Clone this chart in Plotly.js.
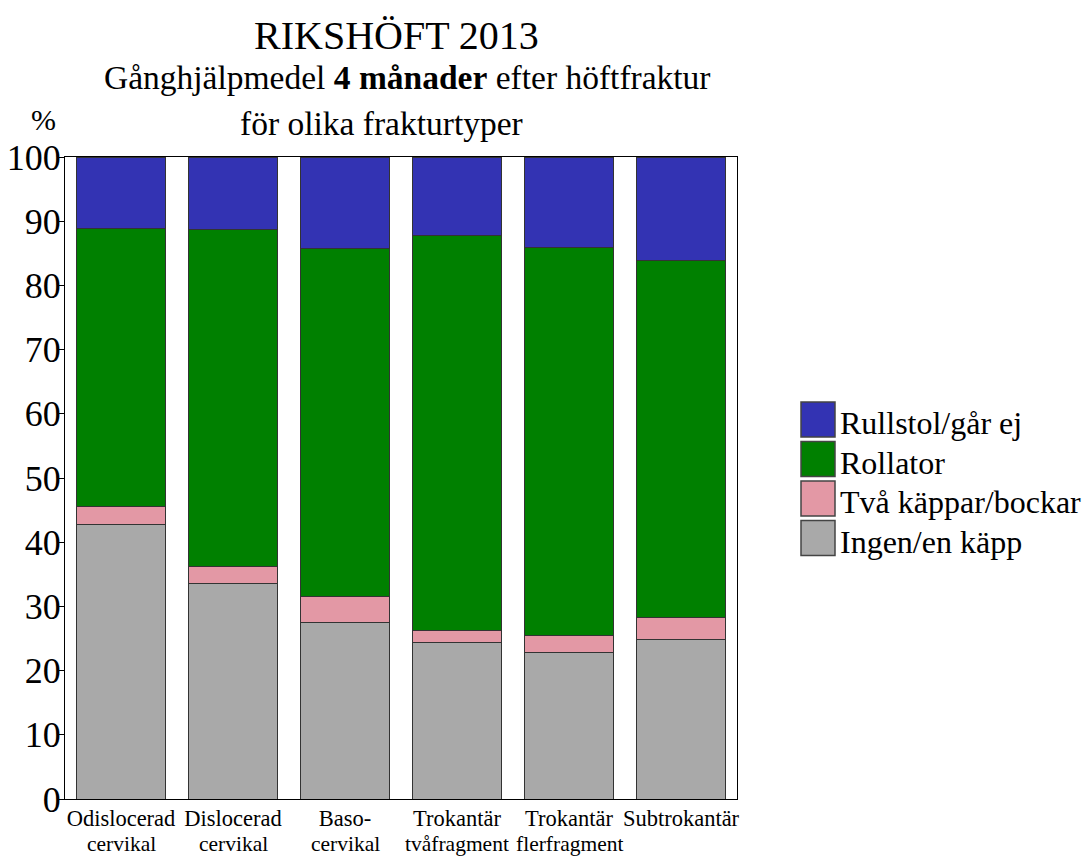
<!DOCTYPE html>
<html><head><meta charset="utf-8">
<script src="https://cdn.plot.ly/plotly-3.0.1.min.js"></script>
<style>body{margin:0;background:#fff}#c{width:1083px;height:857px}</style>
</head><body><div id="c"></div>
<script>
const catLine1 = ["Odislocerad","Dislocerad","Baso-","Trokantär","Trokantär","Subtrokantär"];
const catLine2 = ["cervikal","cervikal","cervikal","tvåfragment","flerfragment",""];
const categories = catLine1.map((a,i)=>(a+" "+catLine2[i]).trim());
const ingenEnKapp = [42.7, 33.5, 27.5, 24.3, 22.8, 24.8];
const tvaKappar = [2.9, 2.7, 4.1, 1.9, 2.7, 3.4];
const rollator = [43.2, 52.5, 54.1, 61.6, 60.4, 55.7];
const rullstol = [11.2, 11.3, 14.3, 12.2, 14.1, 16.1];
const seriesNames = ['Ingen/en käpp', 'Två käppar/bockar', 'Rollator', 'Rullstol/går ej'];
const seriesColors = ['#A9A9A9', '#E398A5', '#008000', '#3333B3'];
const yTicks = [0,10,20,30,40,50,60,70,80,90,100];

const F = "'Liberation Serif', 'Times New Roman', serif";
const line = {color:'#333', width:1};
const series = [ingenEnKapp, tvaKappar, rollator, rullstol];
const data = series.map((y,i)=>({type:'bar', name:seriesNames[i], x:categories, y:y,
  marker:{color:seriesColors[i], line:line}, width:0.79}));

const MT = 157, MB = 58;
const ph = 857-MT-MB, pw = 1083-65-346;
function py(p){ return (857-MB-p)/ph; }
function px(p){ return (p-65)/pw; }

const annotations = [
  {text:'RIKSHÖFT 2013', x:px(396), y:py(35), font:{family:F, size:40}},
  {text:'Gånghjälpmedel <b>4 månader</b> efter höftfraktur', x:px(407), y:py(78), font:{family:F, size:33.5}},
  {text:'för olika frakturtyper', x:px(381), y:py(123), font:{family:F, size:33.5}},
  {text:'%', x:px(43), y:py(119), font:{family:F, size:30}}
].map(a=>Object.assign({xref:'paper', yref:'paper', xanchor:'center', yanchor:'middle', showarrow:false}, a));

// second line of the category labels, placed on the category axis
categories.forEach((c,i)=>{
  if (catLine2[i]) annotations.push({text:catLine2[i], xref:'x', yref:'paper', x:c, y:py(844),
    xanchor:'center', yanchor:'middle', showarrow:false, borderpad:0, font:{family:F, size:21.5, color:'#000'}});
});

const shapes = [];
for (let k=0;k<4;k++){
  const i = 3-k;
  const top = 402 + k*39.5;
  shapes.push({type:'rect', xref:'paper', yref:'paper', x0:px(801), x1:px(835), y0:py(top), y1:py(top+35),
    fillcolor:seriesColors[i], line:{color:'#444', width:1.5}});
  annotations.push({text:seriesNames[i], xref:'paper', yref:'paper', x:px(838), y:py(top+21), xanchor:'left', yanchor:'middle',
    showarrow:false, font:{family:F, size:32, color:'#000'}});
}

const layout = {
  width:1083, height:857,
  margin:{l:65, r:346, t:MT, b:MB},
  paper_bgcolor:'#fff', plot_bgcolor:'#fff',
  barmode:'stack', bargap:0.21,
  font:{family:F, color:'#000'},
  showlegend:false,
  xaxis:{type:'category', tickvals:categories, ticktext:catLine1,
         showline:true, linecolor:'#000', linewidth:1, mirror:true, ticks:'', tickangle:0, ticklabelstandoff:-1,
         tickfont:{family:F, size:22.5, color:'#000'}, showgrid:false, zeroline:false},
  yaxis:{range:[0,100], tickvals:yTicks, ticktext:yTicks.map(String), showline:true, linecolor:'#000', linewidth:1, mirror:true,
         ticks:'outside', ticklen:5, tickcolor:'#000', ticklabelstandoff:-9, tickfont:{family:F, size:36, color:'#000'},
         showgrid:false, zeroline:false},
  annotations:annotations,
  shapes:shapes
};
Plotly.newPlot('c', data, layout, {displayModeBar:false, staticPlot:true});
</script></body></html>
